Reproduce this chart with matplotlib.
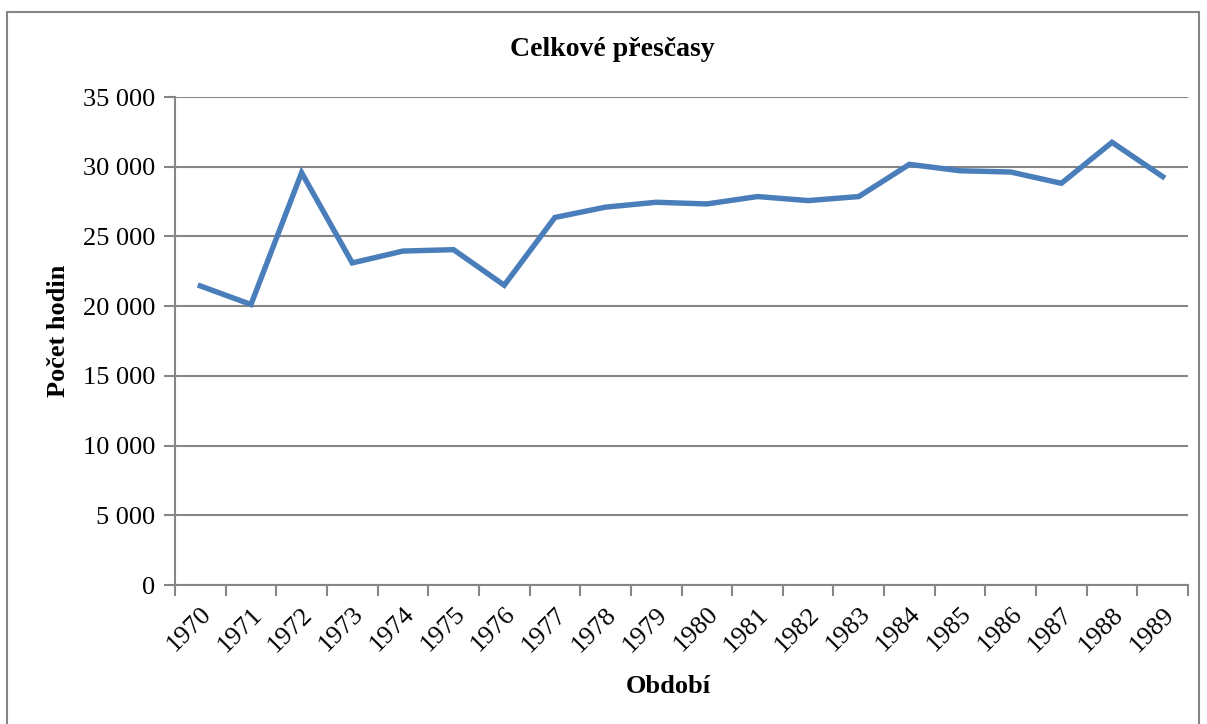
import matplotlib.pyplot as plt
from matplotlib.patches import Rectangle
from matplotlib.ticker import FuncFormatter, FixedLocator

# Data
years = [str(y) for y in range(1970, 1990)]
hours = [21450, 20120, 29570, 23100, 23950, 24050, 21500, 26360, 27100, 27450,
         27330, 27860, 27570, 27860, 30170, 29710, 29620, 28810, 31750, 29290]

plt.rcParams['font.family'] = ['Liberation Serif', 'DejaVu Serif']
grid_col = "#868686"

fig = plt.figure(figsize=(12.07, 7.24), dpi=100)
ax = fig.add_axes([175 / 1207, 1 - 585 / 724, (1188 - 175) / 1207, (585 - 97) / 724])

x = list(range(len(years)))
ax.plot(x, hours, color="#4A7EBB", lw=3.9, solid_joinstyle="miter", zorder=3)

ax.set_xlim(-0.5, len(years) - 0.5)
ax.set_ylim(0, 35000)
ax.set_yticks(range(0, 35001, 5000))
ax.yaxis.set_major_formatter(FuncFormatter(lambda v, p: f"{int(v):,}".replace(",", " ")))
ax.grid(axis="y", color=grid_col, lw=1.5)
ax.set_axisbelow(True)

# category labels at centres, tick marks at boundaries
ax.set_xticks(x)
ax.set_xticklabels(years, rotation=45, ha="right", va="top", rotation_mode="anchor")
ax.xaxis.set_minor_locator(FixedLocator([i - 0.5 for i in range(len(years) + 1)]))
ax.tick_params(axis="x", which="major", length=0, pad=13, labelsize=19)
ax.tick_params(axis="x", which="minor", length=8, width=1.5, color=grid_col)
ax.tick_params(axis="y", length=8, width=1.5, color=grid_col, labelsize=19, pad=6)

for s in ["top", "right"]:
    ax.spines[s].set_visible(False)
for s in ["left", "bottom"]:
    ax.spines[s].set_color(grid_col)
    ax.spines[s].set_linewidth(1.5)

# title centred on the whole chart, not on the plot area
fig.text(612 / 1207, 1 - 50 / 724, "Celkové přesčasy", fontsize=20,
         fontweight="bold", ha="center", va="center")
ax.set_ylabel("Počet hodin", fontsize=19, fontweight="bold")
ax.yaxis.set_label_coords(-0.104, 0.52)
ax.set_xlabel("Období", fontsize=19, fontweight="bold")
ax.xaxis.set_label_coords(0.487, -0.185)

# outer chart frame
fig.patches.append(Rectangle((7 / 1207, -0.05), (1199 - 7) / 1207, 1.05 - 12 / 724,
                             transform=fig.transFigure, fill=False,
                             edgecolor=grid_col, lw=1.5))

fig.savefig("out.png", dpi=100)
